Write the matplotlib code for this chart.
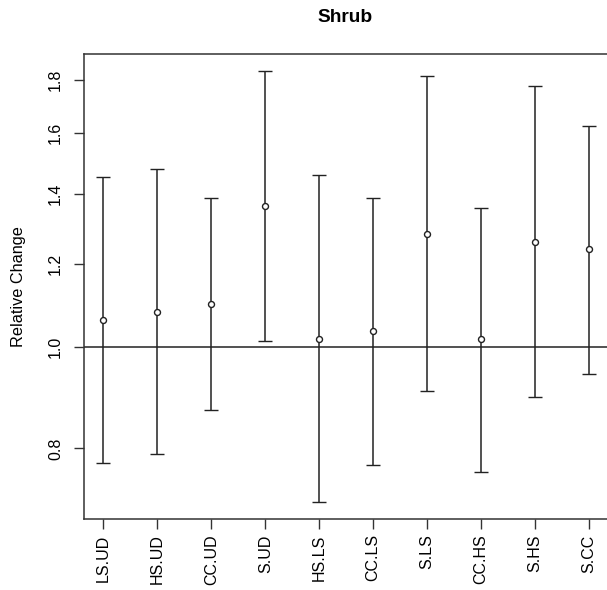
import matplotlib
matplotlib.use("Agg")
import matplotlib.pyplot as plt
from matplotlib.ticker import FixedLocator, NullLocator, FixedFormatter
import numpy as np

plt.rcParams['font.family'] = ['Liberation Sans', 'DejaVu Sans']

categories = ["LS.UD", "HS.UD", "CC.UD", "S.UD", "HS.LS", "CC.LS", "S.LS", "CC.HS", "S.HS", "S.CC"]
estimate = [1.061, 1.080, 1.099, 1.363, 1.018, 1.036, 1.282, 1.018, 1.259, 1.240]
lower = [0.774, 0.790, 0.871, 1.012, 0.711, 0.772, 0.908, 0.760, 0.895, 0.942]
upper = [1.454, 1.480, 1.387, 1.834, 1.458, 1.387, 1.813, 1.358, 1.776, 1.625]
yticks = [0.8, 1.0, 1.2, 1.4, 1.6, 1.8]
ytick_labels = ["0.8", "1.0", "1.2", "1.4", "1.6", "1.8"]

fig = plt.figure(figsize=(6.07, 5.90), dpi=100)
ax = fig.add_axes([84/607, 71/590, (609.5-84)/607, (519-54)/590])

x = np.arange(1, len(categories) + 1)
est = np.array(estimate)
lo = np.array(lower)
hi = np.array(upper)

ax.errorbar(x, est, yerr=[est - lo, hi - est], fmt='o', color='black',
            ecolor='#222222', elinewidth=1.1, capsize=5, capthick=1.1,
            markersize=4.3, markerfacecolor='white', markeredgecolor='#222222',
            markeredgewidth=1.0)
ax.axhline(1.0, color='#222222', lw=1.1)

ax.set_yscale('log')
ax.set_ylim(0.685, 1.904)
ax.set_xlim(0.64, 10.38)

ax.yaxis.set_major_locator(FixedLocator(yticks))
ax.yaxis.set_major_formatter(FixedFormatter(ytick_labels))
ax.yaxis.set_minor_locator(NullLocator())
ax.set_xticks(x)
ax.set_xticklabels(categories, rotation=90)

for lab in ax.get_yticklabels():
    lab.set_rotation(90)
    lab.set_va('center')

ax.tick_params(axis='both', direction='out', length=7, width=1.0, color='#333333',
               labelsize=11.5, pad=4)
ax.tick_params(axis='y', pad=8)
ax.tick_params(axis='x', pad=4)

for s in ax.spines.values():
    s.set_linewidth(1.1)
    s.set_color('#333333')

ax.set_ylabel("Relative Change", fontsize=11.7)
ax.yaxis.set_label_coords(-58/525.5, 0.5)
fig.text(345.5/607, 1 - 17/590, "Shrub", ha='center', va='center',
         fontsize=13.8, fontweight='bold')

fig.savefig("out.png", dpi=100)
